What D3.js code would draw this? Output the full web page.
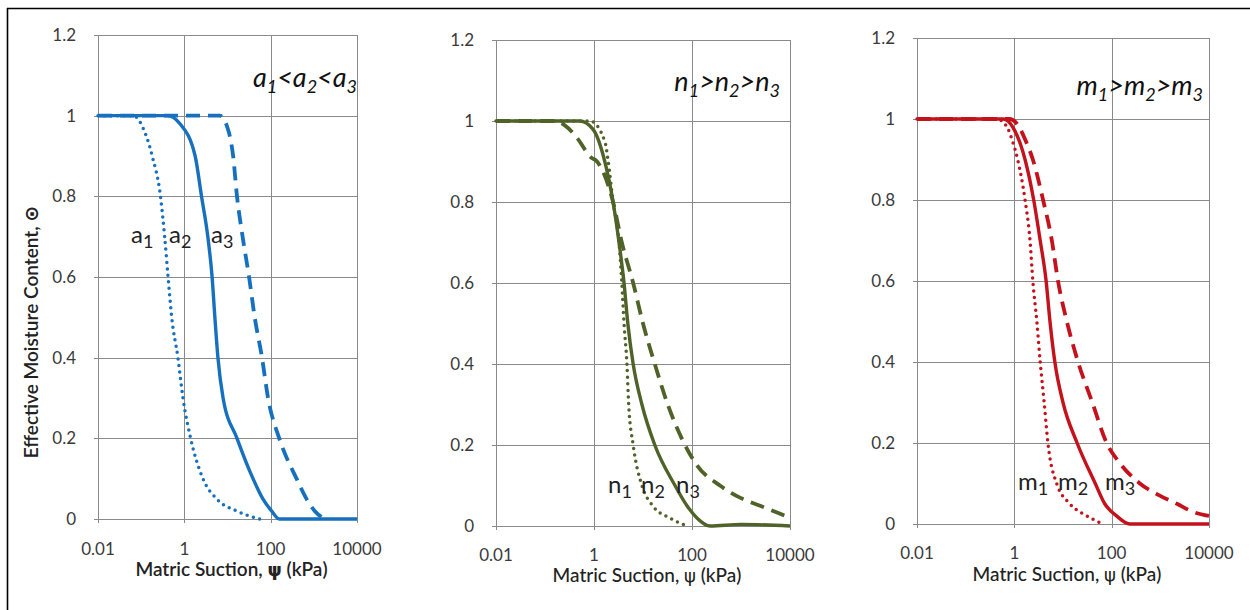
<!DOCTYPE html>
<html><head><meta charset="utf-8">
<script src="https://cdn.jsdelivr.net/npm/d3@7"></script>
<style>
body{margin:0;background:#fff;}
svg{display:block;font-family:Lato,"Open Sans",sans-serif;}
</style></head><body>
<svg id="c" width="1250" height="610"></svg>
<script>
// ---- data (suction in kPa, effective moisture content) ----
const xTicks = [0.01, 1, 100, 10000];
const xTickLabels = ["0.01", "1", "100", "10000"];
const yTicks = [0, 0.2, 0.4, 0.6, 0.8, 1, 1.2];
const yTickLabels = ["0", "0.2", "0.4", "0.6", "0.8", "1", "1.2"];

const a1Psi = [0.01, 0.065, 0.11, 0.18, 0.28, 0.35, 0.42, 0.51, 0.71, 0.93, 1.4, 2.7, 5.6, 16, 56];
const a1Theta = [1, 1, 0.97, 0.9, 0.8, 0.7, 0.6, 0.5, 0.4, 0.3, 0.2, 0.1, 0.05, 0.02, 0];
const a2Psi = [0.01, 0.4, 0.79, 1.78, 2.5, 3.5, 4.4, 5.1, 6.0, 7.9, 16.6, 39, 66, 105, 158, 10000];
const a2Theta = [1, 1, 0.98, 0.9, 0.8, 0.7, 0.6, 0.5, 0.4, 0.3, 0.2, 0.1, 0.05, 0.02, 0, 0];
const a3Psi = [0.01, 6.6, 10, 13.5, 16.6, 22.4, 31.6, 42.7, 63, 87, 158, 398, 676, 1047, 1778];
const a3Theta = [1, 1, 0.97, 0.9, 0.8, 0.7, 0.6, 0.5, 0.4, 0.3, 0.2, 0.1, 0.05, 0.02, 0];

const n1Psi = [0.01, 0.83, 1.66, 1.95, 2.45, 3.24, 3.7, 4.1, 4.7, 5.1, 6.3, 9.5, 15.8, 35, 79];
const n1Theta = [1, 1, 0.95, 0.9, 0.8, 0.7, 0.6, 0.5, 0.4, 0.3, 0.2, 0.1, 0.05, 0.02, 0];
const n2Psi = [0.01, 0.51, 0.95, 1.66, 2.45, 3.24, 4.1, 4.9, 6.3, 9.5, 17.4, 45, 79, 126, 234, 1000, 10000];
const n2Theta = [1, 1, 0.98, 0.9, 0.8, 0.7, 0.6, 0.5, 0.4, 0.3, 0.2, 0.1, 0.05, 0.02, 0, 0.004, 0];
const n3Psi = [0.01, 0.145, 0.25, 0.44, 0.87, 1.15, 2.45, 3.7, 6.3, 10, 17.4, 32, 72, 126, 372, 955, 2455, 6310, 10000];
const n3Theta = [1, 1, 0.99, 0.96, 0.91, 0.9, 0.8, 0.7, 0.6, 0.5, 0.4, 0.3, 0.2, 0.15, 0.1, 0.07, 0.05, 0.03, 0.02];

const m1Psi = [0.01, 0.44, 0.71, 0.89, 1.17, 1.66, 2.1, 2.4, 2.9, 3.4, 4.1, 4.9, 7.4, 13.8, 31, 66];
const m1Theta = [1, 1, 0.98, 0.95, 0.9, 0.8, 0.7, 0.6, 0.5, 0.4, 0.3, 0.2, 0.1, 0.05, 0.02, 0];
const m2Psi = [0.01, 0.59, 0.93, 1.66, 2.5, 3.4, 4.5, 5.4, 6.8, 10, 19.5, 46, 72, 126, 234, 10000];
const m2Theta = [1, 1, 0.98, 0.9, 0.8, 0.7, 0.6, 0.5, 0.4, 0.3, 0.2, 0.1, 0.05, 0.02, 0, 0];
const m3Psi = [0.01, 0.79, 1.26, 1.66, 2.4, 3.9, 5.9, 7.9, 12, 20.4, 40, 79, 148, 380, 977, 2188, 4677, 10000];
const m3Theta = [1, 1, 0.98, 0.95, 0.9, 0.8, 0.7, 0.6, 0.5, 0.4, 0.3, 0.2, 0.15, 0.1, 0.07, 0.05, 0.03, 0.02];

const xTitle = "Matric Suction, ";
const yTitle = "Effective Moisture Content, ";

// ---- panels ----
const panels = [
  {l:98, r:357, t:35, b:519, color:"#1670be", fs:17, ylab:true, boldPsi:true,
   series:[[a1Psi,a1Theta,"dot"],[a2Psi,a2Theta,"solid"],[a3Psi,a3Theta,"dash"]],
   sym:"a", rel:"<", titleX:357, titleY:87,
   labels:[[131,243],[169,243],[211,243]], xtY:555, xtitleY:576},
  {l:496, r:790, t:40, b:526, color:"#4f6228", fs:17, ylab:false, boldPsi:false,
   series:[[n1Psi,n1Theta,"dot"],[n2Psi,n2Theta,"solid"],[n3Psi,n3Theta,"dash"]],
   sym:"n", rel:">", titleX:780, titleY:91,
   labels:[[608,493],[641,493],[676,493]], xtY:561, xtitleY:582},
  {l:917, r:1209, t:38, b:524, color:"#c4121c", fs:17, ylab:false, boldPsi:false,
   series:[[m1Psi,m1Theta,"dot"],[m2Psi,m2Theta,"solid"],[m3Psi,m3Theta,"dash"]],
   sym:"m", rel:">", titleX:1203, titleY:95,
   labels:[[1018,490],[1058,490],[1105,490]], xtY:559, xtitleY:581}
];

const svg = d3.select("#c");
// frame
svg.append("line").attr("x1",7.5).attr("x2",7.5).attr("y1",8).attr("y2",610).attr("stroke","#000").attr("stroke-width",1.6);
svg.append("line").attr("x1",7).attr("x2",1250).attr("y1",8.5).attr("y2",8.5).attr("stroke","#000").attr("stroke-width",1.6);

panels.forEach(p => {
  const x = d3.scaleLog().domain([0.01, 10000]).range([p.l, p.r]);
  const y = d3.scaleLinear().domain([0, 1.2]).range([p.b, p.t]);
  const g = svg.append("g");

  // grid
  g.selectAll(".vg").data(xTicks).join("line")
    .attr("x1", d => Math.round(x(d))+0.5).attr("x2", d => Math.round(x(d))+0.5)
    .attr("y1", p.t).attr("y2", p.b+4).attr("stroke","#8a8a8a").attr("stroke-width",1);
  g.selectAll(".hg").data(yTicks).join("line")
    .attr("x1", p.l-4).attr("x2", p.r)
    .attr("y1", d => Math.round(y(d))+0.5).attr("y2", d => Math.round(y(d))+0.5)
    .attr("stroke","#8a8a8a").attr("stroke-width",1);

  // tick labels
  g.selectAll(".xt").data(xTicks).join("text")
    .attr("x", d => x(d)).attr("y", p.xtY).attr("text-anchor","middle")
    .attr("font-size", p.fs).attr("fill","#3a3a3a")
    .text((d,i) => xTickLabels[i]);
  g.selectAll(".yt").data(yTicks).join("text")
    .attr("x", p.l-22).attr("y", d => y(d)).attr("dy","0.35em").attr("text-anchor","end")
    .attr("font-size", p.fs).attr("fill","#3a3a3a")
    .text((d,i) => yTickLabels[i]);

  // axis title
  const xt = g.append("text").attr("x",(p.l+p.r)/2 + 4).attr("y",p.xtitleY).attr("text-anchor","middle")
    .attr("font-size",19).attr("fill","#222").attr("font-weight", p.boldPsi ? 600 : 500);
  xt.append("tspan").text(xTitle);
  xt.append("tspan").attr("font-weight", p.boldPsi ? 900 : 400).attr("font-family","DejaVu Sans").attr("font-size",18).text("ψ");
  xt.append("tspan").text(" (kPa)");

  if (p.ylab) {
    const yt = svg.append("text").attr("transform","translate(38,332) rotate(-90)")
      .attr("text-anchor","middle").attr("font-size",19).attr("font-weight",600).attr("fill","#222");
    yt.append("tspan").text(yTitle);
    yt.append("tspan").attr("font-family","DejaVu Sans").attr("font-weight",700).text("⊙");
  }

  // curves
  const line = d3.line().x(d => x(d[0])).y(d => y(d[1])).curve(d3.curveMonotoneX);
  const styles = {
    solid:{w:3.4, dash:null, cap:"butt"},
    dash:{w:3.8, dash:"14 8", cap:"butt"},
    dot:{w:3.5, dash:"0 6.5", cap:"round"}
  };
  p.series.forEach(s => {
    const pts = s[0].map((v,i) => [v, s[1][i]]);
    const st = styles[s[2]];
    g.append("path").datum(pts).attr("d", line).attr("fill","none")
      .attr("stroke", p.color).attr("stroke-width", st.w)
      .attr("stroke-dasharray", st.dash).attr("stroke-linecap", st.cap);
  });

  // curve labels
  p.labels.forEach((pos,i) => {
    const t = g.append("text").attr("x",pos[0]).attr("y",pos[1]).attr("font-size",24).attr("fill","#222");
    t.append("tspan").text(p.sym);
    t.append("tspan").attr("font-size",18).attr("dy",5).text(String(i+1));
  });

  // title relation
  const tt = g.append("text").attr("x",p.titleX).attr("y",p.titleY).attr("text-anchor","end")
    .attr("font-size",27).attr("font-style","italic").attr("fill","#111");
  [1,2,3].forEach(k => {
    tt.append("tspan").attr("dy", k===1?0:-6).text((k>1?p.rel:"") + p.sym);
    tt.append("tspan").attr("font-size",18).attr("dy",6).text(String(k));
  });
});
</script>
</body></html>
